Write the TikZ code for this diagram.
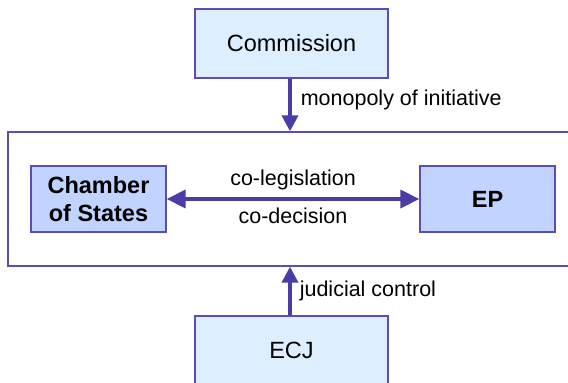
\documentclass[tikz,border=0pt]{standalone}
\usepackage{fontspec}
\setmainfont{Liberation Sans}
\usetikzlibrary{arrows.meta}
\definecolor{edgecol}{HTML}{5B4DB5}
\definecolor{arrcol}{HTML}{4A3DA8}
\definecolor{lightfill}{HTML}{DDEEFF}
\definecolor{midfill}{HTML}{C0D4FF}
\tikzset{
  outerbox/.style={draw=edgecol, line width=1.3pt, fill=lightfill, inner sep=0pt, align=center,
    font=\fontsize{23.5}{28}\selectfont},
  innerbox/.style={draw=edgecol, line width=1.3pt, fill=midfill, inner sep=0pt, align=center,
    font=\fontsize{23.5}{28}\selectfont\bfseries, minimum width=135pt, minimum height=66pt},
  frame/.style={draw=edgecol, line width=1.3pt, inner sep=0pt},
  conn/.style={draw=arrcol, line width=3.6pt, -{Triangle[length=16pt,width=16pt]}},
  dconn/.style={draw=arrcol, line width=3.6pt, {Triangle[length=19pt,width=18pt]}-{Triangle[length=19pt,width=18pt]}},
  lbl/.style={font=\fontsize{21.5}{24}\selectfont, inner sep=0pt}
}
\begin{document}
\begin{tikzpicture}[x=1pt,y=1pt]
\useasboundingbox (0,0) rectangle (568,-383);
\clip (0,0) rectangle (568,-383);
\node[frame, minimum width=564pt, minimum height=134pt] (eu) at (290,-199) {};
\node[outerbox, minimum width=193pt, minimum height=69pt] (comm) at (291.5,-43.5) {Commission};
\node[outerbox, minimum width=193pt, minimum height=69pt] (ecj) at (291.5,-350.5) {ECJ};
\node[innerbox] (cos) at (98.5,-199) {Chamber\\of States};
\node[innerbox] (ep) at (487.5,-199) {EP};
\draw[conn] (comm.south -| eu.north) -- node[lbl, right=9pt, pos=0.4] {monopoly of initiative} (eu.north);
\draw[conn] (ecj.north -| eu.south) -- node[lbl, right=8pt, pos=0.5] {judicial control} (eu.south);
\draw[dconn] (cos.east) --
  node[lbl, above=7pt] {co-legislation}
  node[lbl, below=7pt] {co-decision} (ep.west);
\end{tikzpicture}
\end{document}
